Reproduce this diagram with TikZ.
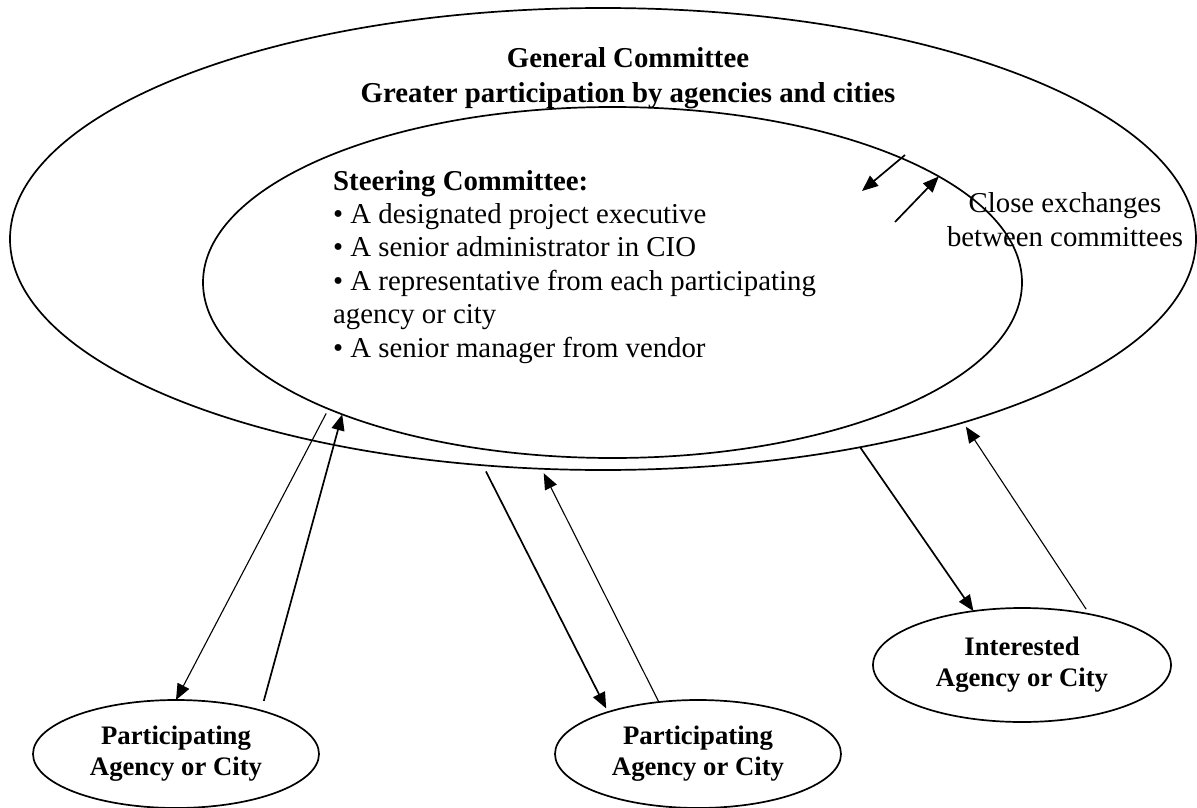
\documentclass[tikz,border=0pt]{standalone}
\usepackage{fontspec}
\setmainfont{Liberation Serif}
\usetikzlibrary{arrows.meta, shapes.geometric}

\begin{document}
\begin{tikzpicture}[
x=1pt, y=-1pt,
committee/.style={ellipse, draw, line width=1.7pt, inner sep=0pt, outer sep=0pt},
member/.style={ellipse, draw, line width=1.7pt, inner sep=0pt, outer sep=0pt, align=center, font=\fontsize{26.7}{31}\selectfont\bfseries},
txt/.style={inner sep=0pt, font=\fontsize{28.8}{33.4}\selectfont},
arr/.style={-{Triangle[length=16pt,width=13pt]}, line width=1.7pt},
thinarr/.style={-{Triangle[length=16pt,width=13pt]}, line width=1.1pt}
]
\useasboundingbox (0,0) rectangle (1197,808);

% committees
\node[committee, minimum width=1186pt, minimum height=462pt] (general) at (603,239) {};
\node[committee, minimum width=819pt, minimum height=351pt] (steering) at (612.5,282.5) {};

\node[txt, font=\fontsize{28.8}{35}\selectfont\bfseries, align=center, anchor=north] (gentitle) at (628,47) {General Committee\\Greater participation by agencies and cities};
\node[txt, align=left, anchor=north west] (members) at (333,170) {\textbf{Steering Committee:}\\• A designated project executive\\• A senior administrator in CIO\\• A representative from each participating\\agency or city\\• A senior manager from vendor};
\node[txt, font=\fontsize{28.8}{34.7}\selectfont, align=center, anchor=north] (exchange) at (1065,192) {Close exchanges\\between committees};

% agencies and cities
\node[member, minimum width=286pt, minimum height=108pt] (partA) at (176,754) {Participating\\Agency or City};
\node[member, minimum width=286pt, minimum height=108pt] (partB) at (698,754) {Participating\\Agency or City};
\node[member, minimum width=298pt, minimum height=114pt] (interest) at (1022,665) {Interested\\Agency or City};

% exchanges between the two committees
\coordinate (xa) at (905,155);
\coordinate (xb) at (862,191);
\coordinate (xc) at (895,222);
\draw[arr] (xa) -- (xb);
\draw[arr] (xc) -- (steering.18);

% links to the agencies
\draw[thinarr, shorten <=5pt] (steering.204.4) -- (partA.north);
\draw[arr, shorten <=10pt] (partA.27.5) -- (steering.206.8);
\draw[arr, shorten <=7pt, shorten >=4pt] (general.242.7) -- (partB.155);
\draw[thinarr, shorten >=5pt] (partB.127.7) -- (general.255.8);
\draw[arr] (general.321.3) -- (interest.132.3);
\draw[thinarr, shorten <=6pt, shorten >=5pt] (interest.37.2) -- (general.333.2);
\end{tikzpicture}
\end{document}
